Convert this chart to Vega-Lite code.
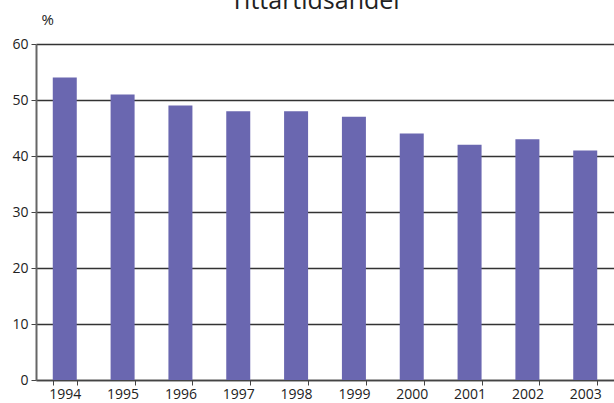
{
  "$schema": "https://vega.github.io/schema/vega-lite/v6.json",
  "width": 578,
  "height": 336,
  "autosize": {"type": "none"},
  "padding": {"left": 36, "top": 44, "right": 0, "bottom": 23},
  "background": "white",
  "title": {
    "text": "Tittartidsandel",
    "font": "Open Sans",
    "fontSize": 25,
    "fontWeight": "normal",
    "color": "#222",
    "anchor": "middle",
    "baseline": "alphabetic",
    "offset": 0,
    "dy": 22,
    "dx": -10
  },
  "data": {
    "values": [
      {"year": "1994", "value": 54},
      {"year": "1995", "value": 51},
      {"year": "1996", "value": 49},
      {"year": "1997", "value": 48},
      {"year": "1998", "value": 48},
      {"year": "1999", "value": 47},
      {"year": "2000", "value": 44},
      {"year": "2001", "value": 42},
      {"year": "2002", "value": 43},
      {"year": "2003", "value": 41}
    ]
  },
  "mark": {"type": "bar", "color": "#6a67b0"},
  "encoding": {
    "x": {
      "field": "year",
      "type": "nominal",
      "scale": {"paddingInner": 0.585, "paddingOuter": 0.29},
      "axis": {
        "title": null,
        "labelAngle": 0,
        "labelFont": "Open Sans",
        "labelFontSize": 14,
        "labelColor": "#222",
        "labelPadding": 2,
        "domainColor": "#444",
        "domainWidth": 1.5,
        "tickColor": "#444",
        "tickSize": 5,
        "tickBand": "extent",
        "grid": false
      }
    },
    "y": {
      "field": "value",
      "type": "quantitative",
      "scale": {"domain": [0, 60], "nice": false},
      "axis": {
        "values": [0, 10, 20, 30, 40, 50, 60],
        "title": "%",
        "titleAngle": 0,
        "titleAlign": "left",
        "titleBaseline": "alphabetic",
        "titleX": 5,
        "titleY": -20,
        "titleFont": "Open Sans",
        "titleFontSize": 15,
        "titleFontWeight": "normal",
        "titleColor": "#222",
        "labelFont": "Open Sans",
        "labelFontSize": 14,
        "labelColor": "#222",
        "labelPadding": 3,
        "domainColor": "#666",
        "domainWidth": 2,
        "tickColor": "#444",
        "tickSize": 5,
        "grid": true,
        "gridColor": "#333",
        "gridWidth": 1.3
      }
    }
  },
  "config": {"view": {"stroke": null}}
}
